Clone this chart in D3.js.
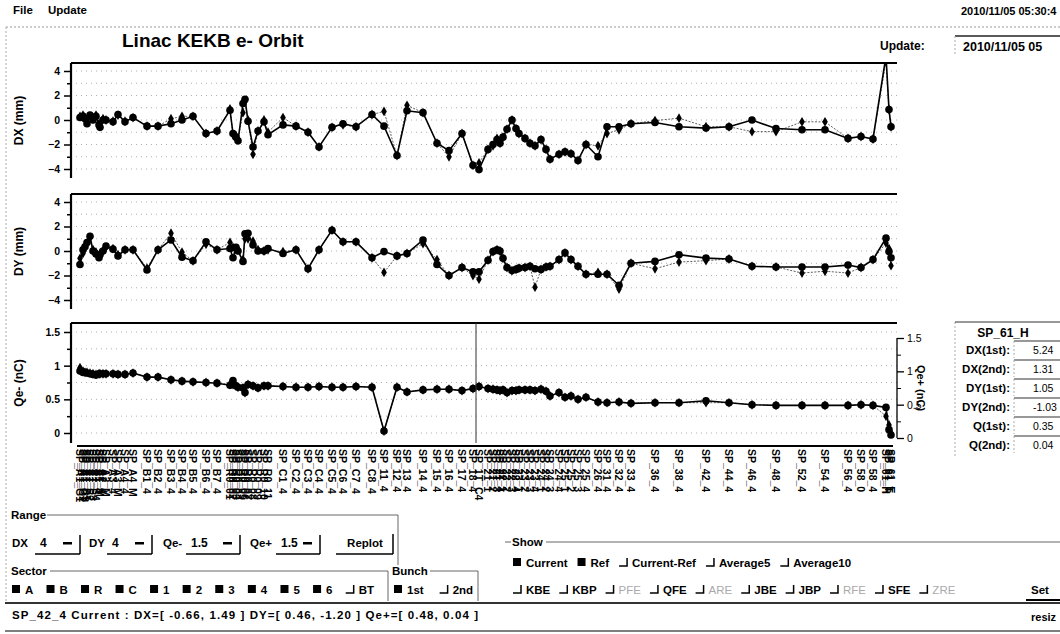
<!DOCTYPE html>
<html>
<head>
<meta charset="utf-8">
<script src="https://cdn.jsdelivr.net/npm/d3@7"></script>
<style>
body { margin: 0; background: #fff; }
svg { display: block; }
</style>
</head>
<body>
<svg width="1060" height="634"></svg>
<script>
// BPM names and their position along the linac (arbitrary units, 0..826)
const bpmNames = [
	"SP_A1_G1","SP_A1_G2","SP_A1_G3","SP_A1_S1","SP_A1_S2","SP_A1_S3","SP_A1_S4","SP_A1_4","SP_A1_M","SP_A2_4",
	"SP_A2_M","SP_A3_4","SP_A3_M","SP_A4_4","SP_A4_M","SP_B1_4","SP_B2_4","SP_B3_4","SP_B4_4","SP_B5_4",
	"SP_B6_4","SP_B7_4","SP_R0_01","SP_R0_02","SP_R0_03","SP_R0_04","SP_R0_05","SP_R0_06","SP_R0_07","SP_R0_08",
	"SP_R0_09","SP_R0_10","SP_R0_11","SP_C1_4","SP_C2_4","SP_C3_4","SP_C4_4","SP_C5_4","SP_C6_4","SP_C7_4",
	"SP_C8_4","SP_11_4","SP_12_4","SP_13_4","SP_14_4","SP_15_4","SP_16_4","SP_17_4","SP_18_4","SP_1T_C4",
	"SP_21_1","SP_21_2","SP_21_3","SP_21_4","SP_22_1","SP_22_2","SP_22_3","SP_22_4","SP_23_1","SP_23_2",
	"SP_23_3","SP_23_4","SP_24_1","SP_24_2","SP_24_3","SP_24_4","SP_25_1","SP_25_2","SP_25_3","SP_25_4",
	"SP_26_4","SP_31_4","SP_32_4","SP_33_4","SP_36_4","SP_38_4","SP_42_4","SP_44_4","SP_46_4","SP_48_4",
	"SP_52_4","SP_54_4","SP_56_4","SP_58_0","SP_58_4","SP_61_H","SP_61_T","SP_61_E"
];
const bpmPos = [
	9, 12, 14, 16, 19, 22, 25, 28, 29, 32,
	35, 42, 47, 54, 62, 76, 87, 100, 111, 122,
	135, 146, 159, 162, 165, 167, 172, 174, 177, 182,
	187, 193, 197, 212, 225, 237, 248, 261, 272, 285,
	301, 313, 326, 336, 352, 366, 378, 391, 402, 408,
	417, 422, 426, 429, 432, 436, 441, 445, 448, 454,
	459, 464, 470, 475, 479, 488, 494, 500, 507, 515,
	527, 536, 548, 560, 584, 608, 635, 658, 681, 705,
	731, 754, 777, 790, 802, 815, 818, 820
];
const targetPos = 405;

// horizontal orbit (mm), current and reference
const dxCur = [
	0.2, 0.3, 0.1, -0.3, 0.4, 0.0, 0.3, -0.4, -0.6, 0.0,
	0.0, -0.15, 0.45, -0.15, 0.2, -0.5, -0.5, -0.3, 0.0, 0.3,
	-1.1, -0.9, 0.8, -1.1, -1.4, -1.7, 1.35, 1.7, -0.1, -2.2,
	-0.9, -0.15, -1.2, -0.4, -0.5, -1.0, -2.2, -0.6, -0.3, -0.55,
	0.45, -0.5, -2.9, 0.75, 0.6, -1.9, -2.5, -1.1, -3.7, -4.05,
	-2.4, -2.0, -1.6, -1.9, -1.4, -0.75, 0.0, -0.7, -1.1, -1.5,
	-1.9, -2.1, -1.6, -2.4, -3.2, -2.8, -2.6, -2.75, -3.3, -2.0,
	-3.0, -0.55, -0.55, -0.3, -0.2, -0.55, -0.66, -0.55, 0.0, -0.7,
	-0.8, -0.8, -1.5, -1.35, -1.55, 5.24, 0.85, -0.55
];
const dxRef = [
	0.3, 0.4, 0.2, -0.2, 0.3, 0.1, 0.4, -0.3, -0.5, 0.1,
	0.0, -0.1, 0.4, -0.1, 0.2, -0.5, -0.5, 0.1, 0.3, 0.3,
	-1.1, -0.9, 0.9, -1.2, -1.3, -1.6, 0.6, 1.5, 0.0, -2.8,
	-0.9, 0.0, -1.0, 0.2, -0.5, -1.0, -2.2, -0.6, -0.4, -0.55,
	0.45, 0.7, -2.9, 1.2, 0.6, -1.9, -3.0, -1.1, -3.7, -3.5,
	-2.4, -2.1, -1.5, -1.9, -1.4, -0.75, 0.0, -0.7, -1.1, -1.5,
	-1.9, -2.1, -1.6, -2.4, -3.2, -2.8, -2.6, -2.75, -3.3, -2.0,
	-2.1, -1.1, -0.8, -0.3, -0.05, 0.15, -0.55, -0.55, -0.95, -0.95,
	-0.15, -0.15, -1.5, -1.35, -1.55, 4.8, 0.85, -0.55
];
// vertical orbit (mm)
const dyCur = [
	-1.1, 0.1, 0.35, 0.7, 1.2, 0.0, -0.25, -0.55, -0.3, 0.0,
	0.4, 0.15, -0.4, 0.1, 0.1, -1.55, 0.1, 0.9, -0.5, -0.8,
	0.75, 0.1, 0.2, -0.55, 0.3, 0.0, -0.85, 1.4, 1.45, 0.5,
	0.0, 0.0, 0.2, -0.2, 0.1, -1.45, 0.1, 1.7, 0.75, 0.75,
	-0.55, -0.05, -0.4, -0.2, 0.9, -1.1, -2.0, -1.35, -1.7, -1.7,
	-0.75, -0.05, 0.1, 0.0, -0.6, -1.35, -1.6, -1.5, -1.4, -1.35,
	-1.25, -1.45, -1.5, -1.3, -1.25, -0.7, -0.15, -0.7, -1.25, -1.9,
	-1.9, -1.9, -2.8, -1.0, -0.85, -0.3, -0.58, -0.65, -1.25, -1.3,
	-1.3, -1.3, -1.15, -1.35, -0.7, 1.05, -0.05, -0.55
];
const dyRef = [
	-0.6, -0.2, 0.3, 0.6, 1.1, 0.1, -0.1, -0.4, -0.2, 0.0,
	0.3, 0.2, -0.3, 0.1, 0.1, -1.4, 0.1, 1.45, -0.1, -0.8,
	0.55, 0.1, 0.7, 0.3, 0.2, 0.1, -0.7, 1.0, 1.0, 0.8,
	0.1, 0.0, 0.1, -0.05, 0.1, -1.45, 0.1, 1.7, 0.75, 0.75,
	-0.55, -1.75, -0.4, -0.2, 0.6, -0.7, -2.0, -1.35, -2.0, -2.3,
	-0.75, -0.05, 0.1, 0.0, -0.6, -1.35, -1.6, -1.5, -1.4, -1.35,
	-1.25, -2.95, -1.5, -1.3, -1.25, -0.7, -0.15, -0.7, -1.25, -1.9,
	-1.75, -1.9, -3.1, -1.0, -1.45, -0.9, -0.79, -0.65, -1.25, -1.3,
	-1.8, -1.65, -1.8, -1.35, -0.7, 0.65, 0.2, -1.2
];
// bunch charge (nC)
const qCur = [
	0.92, 0.90, 0.90, 0.89, 0.88, 0.87, 0.86, 0.88, 0.88, 0.88,
	0.88, 0.88, 0.87, 0.87, 0.89, 0.83, 0.83, 0.79, 0.77, 0.76,
	0.75, 0.74, 0.71, 0.78, 0.70, 0.68, 0.67, 0.60, 0.72, 0.70,
	0.67, 0.70, 0.70, 0.69, 0.68, 0.68, 0.69, 0.68, 0.68, 0.69,
	0.68, 0.03, 0.68, 0.61, 0.64, 0.65, 0.65, 0.63, 0.66, 0.69,
	0.66, 0.65, 0.64, 0.63, 0.64, 0.60, 0.63, 0.63, 0.64, 0.64,
	0.64, 0.63, 0.65, 0.62, 0.55, 0.60, 0.53, 0.55, 0.50, 0.53,
	0.46, 0.45, 0.46, 0.44, 0.45, 0.45, 0.48, 0.45, 0.42, 0.41,
	0.41, 0.41, 0.41, 0.42, 0.41, 0.38, 0.05, -0.03
];
const qRef = [
	0.97, 0.92, 0.90, 0.90, 0.89, 0.88, 0.87, 0.88, 0.88, 0.88,
	0.88, 0.88, 0.87, 0.87, 0.89, 0.83, 0.83, 0.79, 0.77, 0.76,
	0.75, 0.74, 0.72, 0.72, 0.70, 0.68, 0.67, 0.60, 0.72, 0.70,
	0.67, 0.70, 0.70, 0.69, 0.68, 0.68, 0.69, 0.68, 0.68, 0.69,
	0.68, 0.03, 0.68, 0.61, 0.64, 0.65, 0.65, 0.63, 0.66, 0.69,
	0.66, 0.65, 0.64, 0.63, 0.64, 0.60, 0.63, 0.63, 0.64, 0.64,
	0.64, 0.63, 0.65, 0.62, 0.55, 0.60, 0.53, 0.55, 0.50, 0.53,
	0.46, 0.45, 0.46, 0.44, 0.45, 0.45, 0.45, 0.45, 0.42, 0.41,
	0.41, 0.41, 0.41, 0.42, 0.41, 0.25, 0.12, 0.0
];

const orbitMajor = [-4, -2, 0, 2, 4];
const orbitMinor = [-3, -1, 1, 3];
const orbitGrid = [-4, -3, -2, -1, 0, 1, 2, 3, 4];
const qMajor = [0, 0.5, 1, 1.5];
const qMinor = [0.25, 0.75, 1.25];
const qGrid = [0, 0.25, 0.5, 0.75, 1, 1.25, 1.5];

// side panel (selected BPM)
const selName = "SP_61_H";
const selLabels = ["DX(1st):", "DX(2nd):", "DY(1st):", "DY(2nd):", "Q(1st):", "Q(2nd):"];
const selValues = ["5.24", "1.31", "1.05", "-1.03", "0.35", "0.04"];

// control widgets
const rangeLabels = ["DX", "DY", "Qe-", "Qe+"];
const rangeValues = ["4", "4", "1.5", "1.5"];
const sectorItems = ["A", "B", "R", "C", "1", "2", "3", "4", "5", "6", "BT"];
const sectorOn = [1, 1, 1, 1, 1, 1, 1, 1, 1, 1, 0];
const bunchItems = ["1st", "2nd"];
const bunchOn = [1, 0];
const showItems = ["Current", "Ref", "Current-Ref", "Average5", "Average10"];
const showOn = [1, 1, 0, 0, 0];
const filterItems = ["KBE", "KBP", "PFE", "QFE", "ARE", "JBE", "JBP", "RFE", "SFE", "ZRE"];
const filterDim = [0, 0, 1, 0, 1, 0, 0, 1, 0, 1];
const statusText = "SP_42_4    Current : DX=[ -0.66, 1.49 ] DY=[ 0.46, -1.20 ] Qe+=[ 0.48, 0.04 ]";

const svg = d3.select("svg");
const FONT = '"Liberation Sans", Arial, Helvetica, sans-serif';

function txt(sel, x, y, s, size, opts = {}) {
	return sel.append("text")
		.attr("x", x).attr("y", y)
		.attr("font-family", opts.family || FONT)
		.attr("font-weight", opts.weight || "bold")
		.attr("font-size", size)
		.attr("fill", opts.fill || "#000")
		.attr("text-anchor", opts.anchor || "start")
		.text(s);
}
function hline(x1, x2, y, w, col, dash) {
	return svg.append("line").attr("x1", x1).attr("x2", x2).attr("y1", y).attr("y2", y)
		.attr("stroke", col || "#000").attr("stroke-width", w || 1)
		.attr("stroke-dasharray", dash || null);
}
function vline(x, y1, y2, w, col, dash) {
	return svg.append("line").attr("x1", x).attr("x2", x).attr("y1", y1).attr("y2", y2)
		.attr("stroke", col || "#000").attr("stroke-width", w || 1)
		.attr("stroke-dasharray", dash || null);
}

// window frame
txt(svg, 13, 14, "File", 11.5);
txt(svg, 48, 14, "Update", 11.5);
txt(svg, 961, 15, "2010/11/05 05:30:4", 11);
hline(6, 1060, 27, 1, "#999", "2,2");
vline(6, 27, 603, 1, "#aaa", "2,2");
txt(svg, 122, 47, "Linac KEKB e- Orbit", 19);
txt(svg, 880, 50, "Update:", 12);
hline(955, 1060, 36, 1.5, "#222");
vline(955, 36, 56, 1, "#aaa", "2,2");
txt(svg, 963, 51, "2010/11/05 05", 12.5);

const X0 = 71, X1 = 897;
const x = d3.scaleLinear().domain([0, 826]).range([X0, X1]);

function drawPanel(p) {
	const y = d3.scaleLinear().domain(p.domain).range(p.range);
	const g = svg.append("g");

	g.selectAll("line.grid").data(p.grid).join("line")
		.attr("class", "grid")
		.attr("x1", X0).attr("x2", X1)
		.attr("y1", (d) => y(d)).attr("y2", (d) => y(d))
		.attr("stroke", "#9a9a9a").attr("stroke-width", 0.8)
		.attr("stroke-dasharray", "1,4");

	g.append("line").attr("x1", X0).attr("x2", X1).attr("y1", p.top).attr("y2", p.top)
		.attr("stroke", "#000").attr("stroke-width", 2.2);

	const ax = g.append("g").attr("transform", `translate(${X0},0)`)
		.call(d3.axisLeft(y).tickValues(p.major).tickSize(7).tickPadding(4).tickFormat(p.fmt));
	ax.select(".domain").remove();
	ax.selectAll("line").attr("stroke-width", 1.5);
	ax.selectAll("text").attr("font-family", FONT).attr("font-weight", "bold")
		.attr("font-size", 10.5).attr("fill", "#000");
	const axm = g.append("g").attr("transform", `translate(${X0},0)`)
		.call(d3.axisLeft(y).tickValues(p.minor).tickSize(4).tickFormat(""));
	axm.select(".domain").remove();
	axm.selectAll("line").attr("stroke-width", 1.5);
	g.append("line").attr("x1", X0).attr("x2", X0).attr("y1", p.top).attr("y2", p.bottom)
		.attr("stroke", "#000").attr("stroke-width", 2.2);

	g.append("text")
		.attr("transform", `translate(23,${(p.top + p.bottom) / 2}) rotate(-90)`)
		.attr("text-anchor", "middle")
		.attr("font-family", FONT).attr("font-weight", "bold").attr("font-size", 12)
		.text(p.label);

	const clipId = "clip-" + p.name;
	svg.append("clipPath").attr("id", clipId).append("rect")
		.attr("x", X0).attr("y", p.top).attr("width", X1 - X0 + 6).attr("height", p.bottom - p.top + 6);
	const plot = g.append("g").attr("clip-path", `url(#${clipId})`);

	const line = d3.line().x((d, i) => x(bpmPos[i])).y((d) => y(d));
	plot.append("path").datum(p.ref).attr("d", line)
		.attr("fill", "none").attr("stroke", "#333").attr("stroke-width", 0.8)
		.attr("stroke-dasharray", "2,1.5");
	plot.append("path").datum(p.cur).attr("d", line)
		.attr("fill", "none").attr("stroke", "#000").attr("stroke-width", 1.6);
	plot.selectAll("path.ref").data(p.ref).join("path")
		.attr("class", "ref")
		.attr("transform", (d, i) => `translate(${x(bpmPos[i])},${y(d)})`)
		.attr("d", d3.symbol(d3.symbolDiamond, 28))
		.attr("fill", "#000");
	plot.selectAll("circle.cur").data(p.cur).join("circle")
		.attr("class", "cur")
		.attr("cx", (d, i) => x(bpmPos[i])).attr("cy", (d) => y(d))
		.attr("r", 3.8).attr("fill", "#000");
	return { g, y };
}

drawPanel({ name: "dx", top: 63, bottom: 178, domain: [-4, 4], range: [169, 71],
	major: orbitMajor, minor: orbitMinor, grid: orbitGrid, fmt: d3.format("d"),
	label: "DX (mm)", cur: dxCur, ref: dxRef });
drawPanel({ name: "dy", top: 194, bottom: 309, domain: [-4, 4], range: [300, 202],
	major: orbitMajor, minor: orbitMinor, grid: orbitGrid, fmt: d3.format("d"),
	label: "DY (mm)", cur: dyCur, ref: dyRef });
drawPanel({ name: "q", top: 323, bottom: 443, domain: [0, 1.5], range: [433, 332],
	major: qMajor, minor: qMinor, grid: qGrid, fmt: (d) => String(d),
	label: "Qe- (nC)", cur: qCur, ref: qRef });

// positron target separator
vline(x(targetPos), 323, 443, 1, "#333");

// right axis for e+ charge
const yR = d3.scaleLinear().domain([0, 1.5]).range([438, 338]);
const axR = svg.append("g").attr("transform", `translate(${X1},0)`)
	.call(d3.axisRight(yR).tickValues(qMajor).tickSize(7).tickPadding(3).tickFormat((d) => String(d)));
axR.select(".domain").remove();
axR.selectAll("line").attr("stroke-width", 1.3);
axR.selectAll("text").attr("font-family", FONT).attr("font-size", 10.5).attr("fill", "#000");
const axRm = svg.append("g").attr("transform", `translate(${X1},0)`)
	.call(d3.axisRight(yR).tickValues(qMinor).tickSize(4).tickFormat(""));
axRm.select(".domain").remove();
vline(X1, yR(1.5), yR(0), 1.3);
svg.append("text")
	.attr("transform", `translate(917,${yR(0.75)}) rotate(90)`)
	.attr("text-anchor", "middle")
	.attr("font-family", FONT).attr("font-weight", "bold").attr("font-size", 11)
	.text("Qe+ (nC)");

// BPM axis
hline(77, 893, 446, 2.2);
svg.append("g").selectAll("text").data(bpmNames).join("text")
	.attr("transform", (d, i) => `translate(${x(bpmPos[i])},449) rotate(90)`)
	.attr("dy", "0.35em")
	.attr("font-family", FONT).attr("font-weight", "bold").attr("font-size", 10.5)
	.text((d) => d);

// selected BPM panel
vline(955, 322, 456, 1, "#aaa", "2,2");
hline(955, 1060, 322, 1.2, "#333");
txt(svg, 1003, 337, selName, 12, { anchor: "middle" });
selLabels.forEach((s, i) => {
	const yy = 354 + i * 19;
	txt(svg, 1010, yy, s, 11.5, { anchor: "end" });
	hline(1014, 1060, yy - 13, 1.2, "#333");
	vline(1014, yy - 13, yy + 4, 1, "#aaa", "2,2");
	txt(svg, 1033, yy, selValues[i], 10.5, { weight: "normal" });
});

// Range group
txt(svg, 11, 519, "Range", 11.5);
hline(47, 398, 515, 1, "#666");
vline(398, 515, 565, 1, "#666");
const rangeLabelX = [12, 89, 163, 250];
const rangeBox = [[35, 80], [107, 152], [186, 240], [276, 320]];
rangeLabels.forEach((lab, i) => {
	const by = 547;
	const [b0, b1] = rangeBox[i];
	txt(svg, rangeLabelX[i], by, lab, 11.5);
	txt(svg, b0 + 5, by, rangeValues[i], 12);
	svg.append("rect").attr("x", b1 - 17).attr("y", by - 5)
		.attr("width", 9).attr("height", 2.5).attr("fill", "#000");
	hline(b0, b1, by + 7, 1.5);
	vline(b1, by - 12, by + 7, 1.5);
});
txt(svg, 365, 547, "Replot", 11.5, { anchor: "middle" });
hline(336, 393, 554, 1.5);
vline(393, 534, 554, 1.5);

// checkbox-style items
function checkItems(x0, y0, items, on, dim, gap) {
	let cx = x0;
	items.forEach((s, i) => {
		if (on[i]) {
			svg.append("rect").attr("x", cx).attr("y", y0 - 9).attr("width", 8).attr("height", 8).attr("fill", "#000");
		} else {
			svg.append("path").attr("d", `M${cx},${y0 - 1}H${cx + 8}V${y0 - 9}`)
				.attr("fill", "none").attr("stroke", "#000").attr("stroke-width", 1.5);
		}
		const faded = dim && dim[i];
		const t = txt(svg, cx + 13, y0, s, 11.5, { fill: faded ? "#aaa" : "#000", weight: faded ? "normal" : "bold" });
		cx += 13 + t.node().getComputedTextLength() + gap;
	});
	return cx;
}

// Sector + Bunch groups
txt(svg, 11, 575, "Sector", 11.5);
hline(50, 388, 571, 1, "#666");
vline(388, 571, 601, 1, "#666");
checkItems(12, 594, sectorItems, sectorOn, null, 13.2);
txt(svg, 392, 575, "Bunch", 11.5);
hline(430, 478, 571, 1, "#666");
vline(478, 571, 601, 1, "#666");
checkItems(394, 594, bunchItems, bunchOn, null, 16);

// Show group
txt(svg, 512, 546, "Show", 11.5);
hline(505, 511, 542, 1, "#666");
hline(546, 1060, 542, 1, "#666");
checkItems(513, 567, showItems, showOn, null, 10);
checkItems(513, 594, filterItems, filterDim.map(() => 0), filterDim, 9);
txt(svg, 1031, 594, "Set", 11.5);
hline(1026, 1060, 600, 2);

// status bar
hline(5, 1060, 603, 2, "#333");
hline(5, 1060, 631, 1.5, "#555");
txt(svg, 12, 619, statusText, 11.5)
	.attr("textLength", 466).attr("lengthAdjust", "spacing");
txt(svg, 1031, 621, "resiz", 11);
</script>
</body>
</html>
